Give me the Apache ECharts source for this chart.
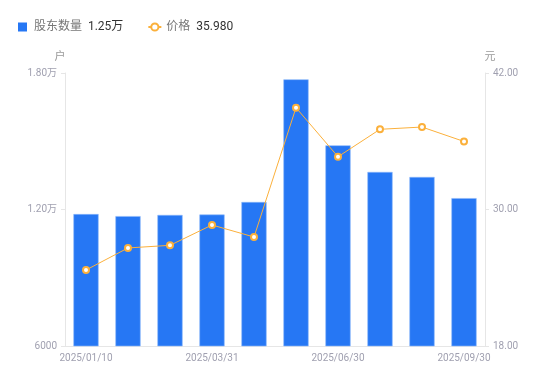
<!DOCTYPE html>
<html><head><meta charset="utf-8">
<script src="https://cdn.jsdelivr.net/npm/echarts@6/dist/echarts.min.js"></script>
<style>html,body{margin:0;padding:0;background:#fff}#c{width:550px;height:381px}</style>
</head><body><div id="c"></div>
<script>
var categories = ['2025/01/10','2025/02/10','2025/03/10','2025/03/31','2025/04/30','2025/05/30','2025/06/30','2025/07/31','2025/08/29','2025/09/30'];
var holders = [11800, 11710, 11760, 11780, 12330, 17720, 14820, 13650, 13430, 12500];
var prices = [24.68, 26.62, 26.85, 28.64, 27.58, 38.95, 34.64, 37.05, 37.25, 35.98];
var leftTicks = [6000, 12000, 18000];
var rightTicks = [18, 30, 42];

var chart = echarts.init(document.getElementById('c'));
var font = 'Roboto, "Noto Sans CJK SC", sans-serif';
function fmtWan(v){ return v >= 10000 ? (v/10000).toFixed(2) + '万' : String(v); }
chart.setOption({
  animation: false,
  textStyle: {fontFamily: font},
  legend: {
    left: 13, top: 16, itemWidth: 13, itemHeight: 9, itemGap: 24,
    formatter: function(name){
      if (name === '股东数量') return '{n|' + name + '}  {v|' + fmtWan(holders[holders.length-1]) + '}';
      return '{n|' + name + '}  {v|' + prices[prices.length-1].toFixed(3) + '}';
    },
    textStyle: {rich: {n: {color: '#777', fontSize: 12, fontFamily: font}, v: {color: '#333', fontSize: 12, fontFamily: font}}},
    data: [
      {name: '股东数量', icon: 'path://M0,0H10V10H0Z', itemStyle: {borderWidth: 0}},
      {name: '价格', lineStyle: {width: 2}}
    ]
  },
  grid: {left: 65, right: 65, top: 73, bottom: 35},
  xAxis: {
    type: 'category', data: categories,
    axisLine: {lineStyle: {color: '#e6e6e6'}},
    axisTick: {show: false},
    axisLabel: {color: '#a0a0b0', fontSize: 10, interval: 2, margin: 7},
  },
  yAxis: [{
    type: 'value', min: 6000, max: 18000, interval: 6000, name: '户',
    nameTextStyle: {color: '#999', fontSize: 11, padding: [0, 10, 0, 0]}, nameGap: 10,
    axisLine: {show: true, lineStyle: {color: '#e6e6e6'}},
    axisTick: {show: true, length: 4, lineStyle: {color: '#e6e6e6'}},
    splitLine: {show: false},
    axisLabel: {color: '#a0a0b0', fontSize: 10, margin: 8, formatter: fmtWan}
  }, {
    type: 'value', min: 18, max: 42, interval: 12, name: '元',
    nameTextStyle: {color: '#999', fontSize: 11, padding: [0, 0, 0, 10]}, nameGap: 10,
    axisLine: {show: true, lineStyle: {color: '#e6e6e6'}},
    axisTick: {show: true, length: 4, lineStyle: {color: '#e6e6e6'}},
    splitLine: {show: false},
    axisLabel: {color: '#a0a0b0', fontSize: 10, margin: 8, formatter: function(v){return v.toFixed(2);}}
  }],
  series: [{
    name: '股东数量', type: 'bar', data: holders, barWidth: '60%',
    itemStyle: {color: '#2677f4', borderColor: '#8db8fa', borderWidth: 0.6}
  }, {
    name: '价格', type: 'line', yAxisIndex: 1, data: prices,
    symbol: 'emptyCircle', symbolSize: 6,
    lineStyle: {color: '#fbb03b', width: 1},
    itemStyle: {color: '#fbb03b', borderWidth: 2}
  }]
});
</script></body></html>
